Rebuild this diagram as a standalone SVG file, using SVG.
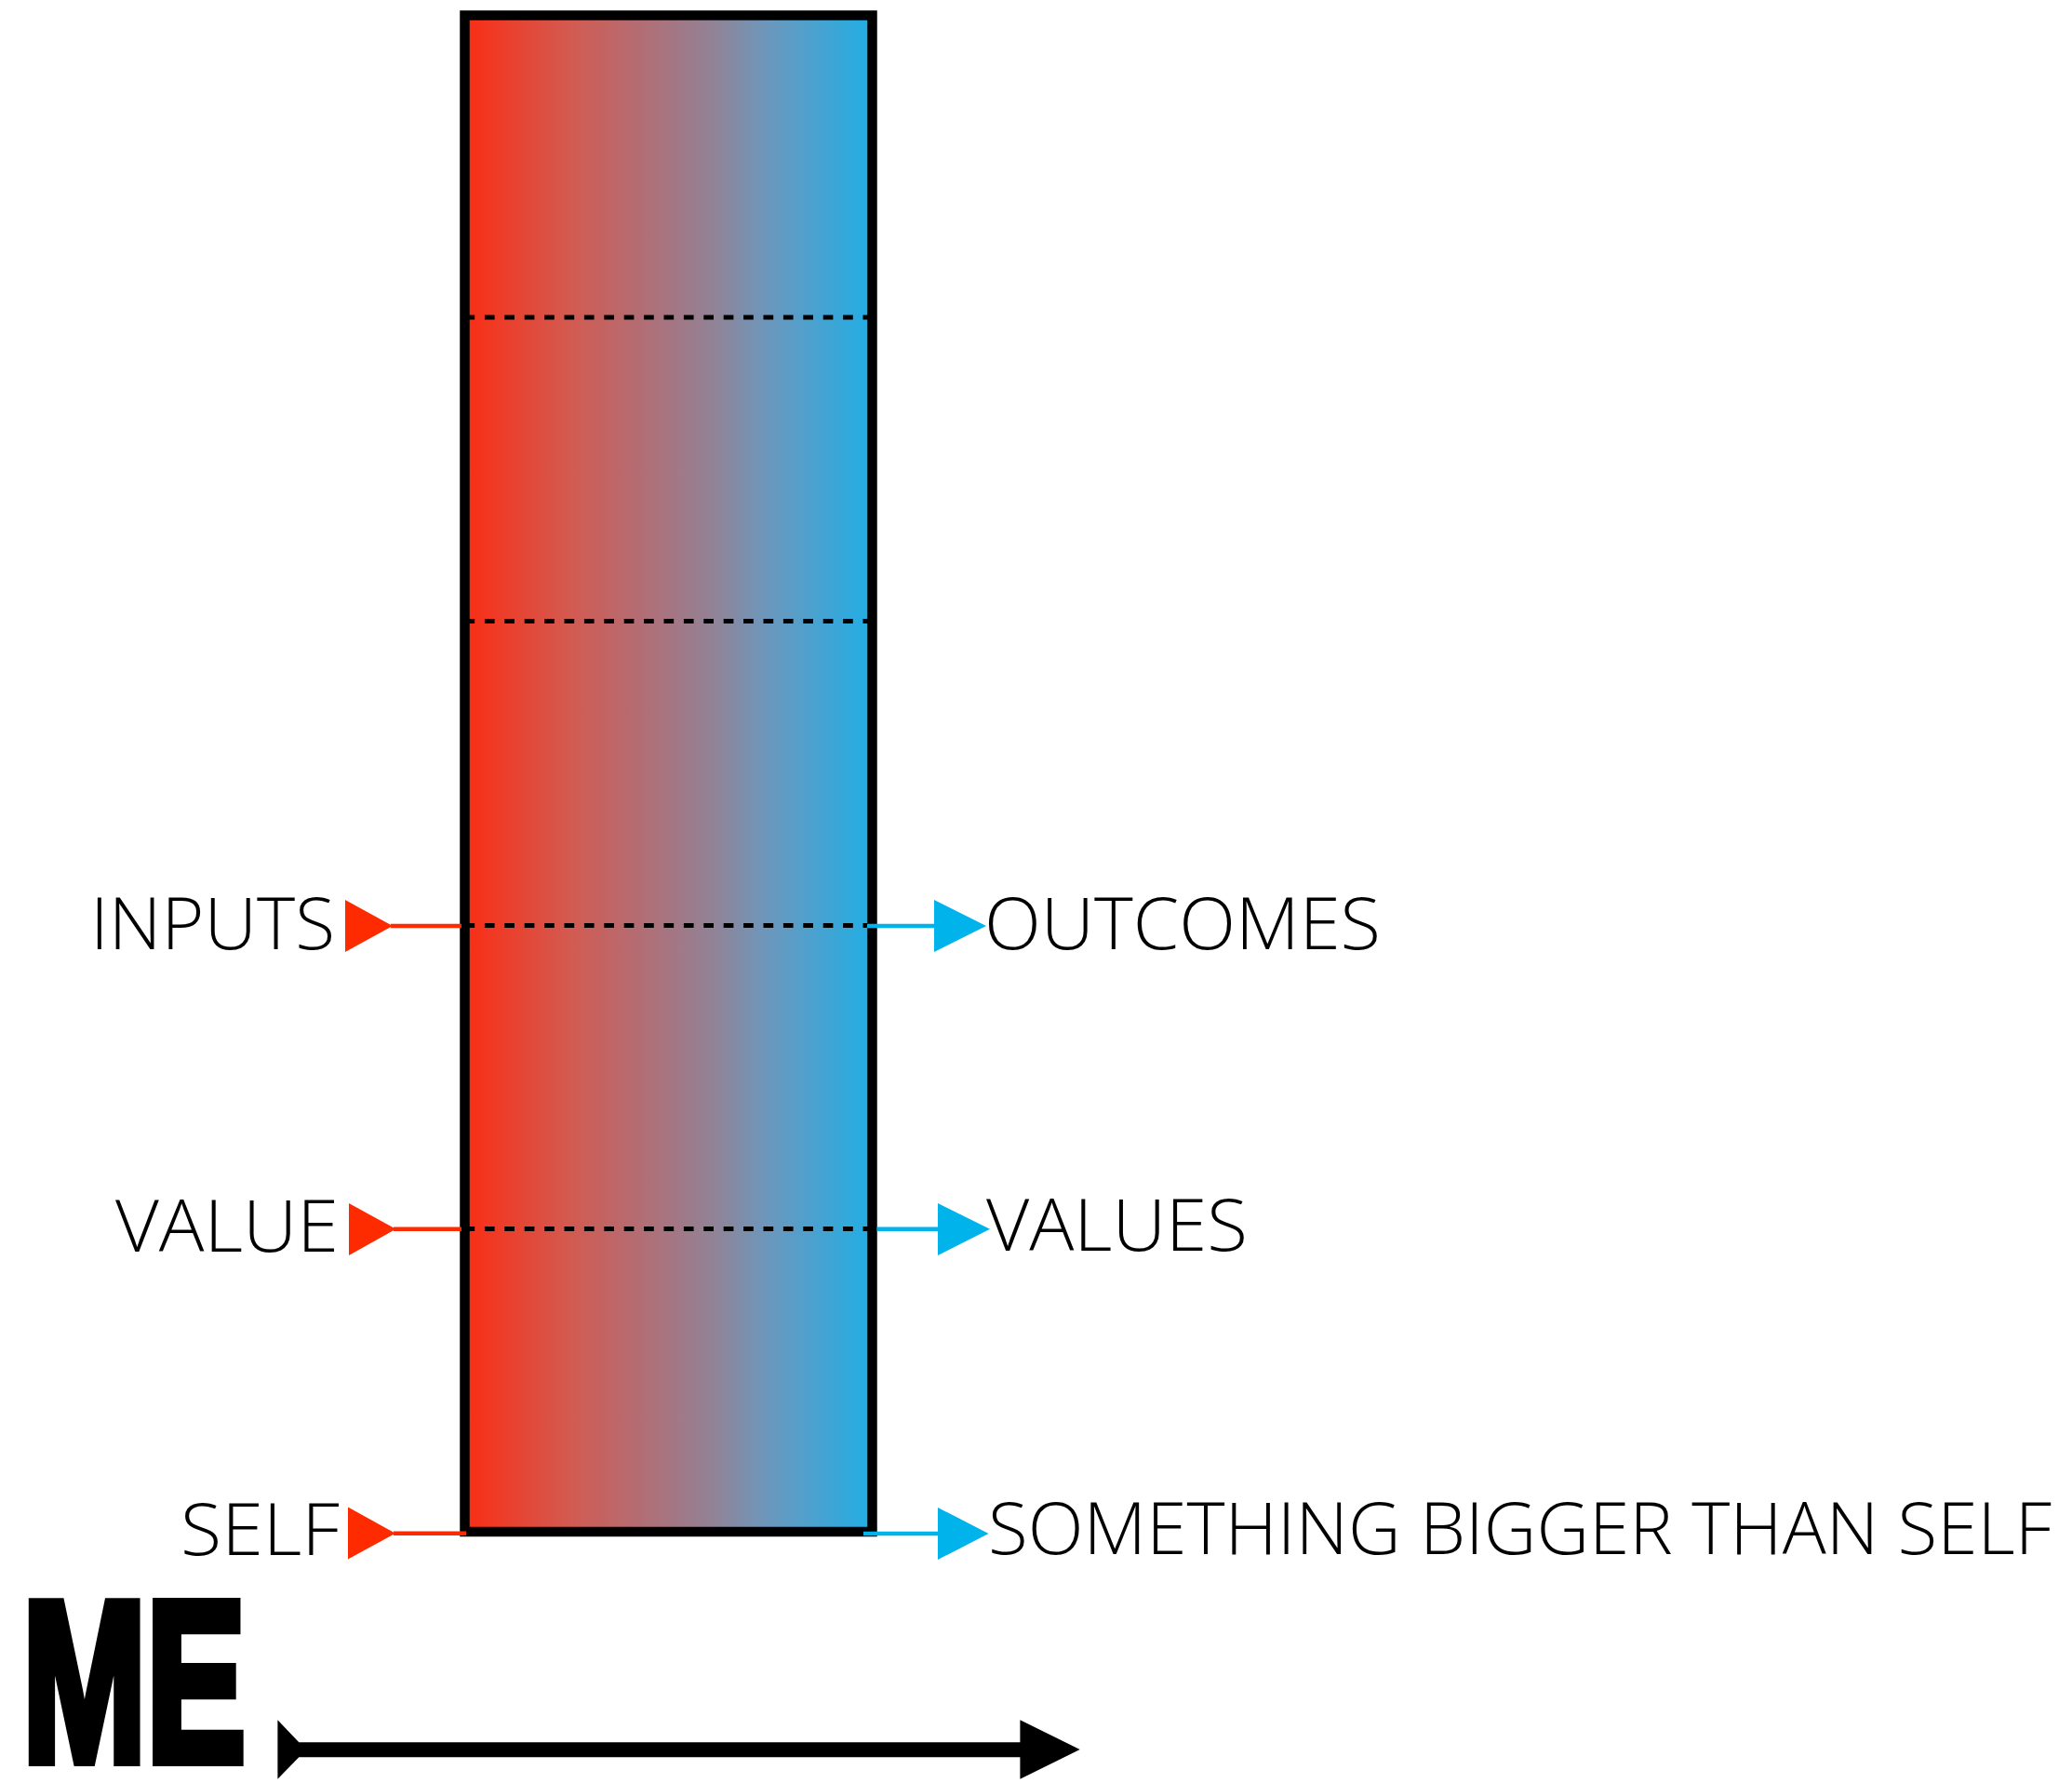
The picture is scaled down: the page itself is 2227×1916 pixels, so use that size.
<svg xmlns="http://www.w3.org/2000/svg" width="2227" height="1916" viewBox="0 0 2227 1916">
  <style>
    .label { font-family: "Open Sans", "Noto Sans", "Liberation Sans", sans-serif; font-weight: 300; font-size: 78px; fill: #000; }
    .divider { stroke: #000; stroke-width: 5; stroke-dasharray: 10.7 10.7; fill: none; }
    .in-line { stroke: #FF2B00; stroke-width: 4.5; fill: none; }
    .out-line { stroke: #00B3EA; stroke-width: 4.5; fill: none; }
    .in-head { fill: #FF2B00; }
    .out-head { fill: #00B3EA; }
    .big { font-family: "Liberation Sans Narrow", "Liberation Sans", Arial, sans-serif; font-weight: 700; font-size: 245px; fill: #000; stroke: #000; stroke-width: 12; stroke-linejoin: miter; }
  </style>
  <defs>
    <linearGradient id="spectrum" x1="0" y1="0" x2="1" y2="0">
      <stop offset="0" stop-color="#FA2D14"/>
      <stop offset="0.25" stop-color="#D4594F"/>
      <stop offset="0.5" stop-color="#A67582"/>
      <stop offset="0.62" stop-color="#8F8498"/>
      <stop offset="0.75" stop-color="#6A98BE"/>
      <stop offset="1" stop-color="#20AEE5"/>
    </linearGradient>
  </defs>

  <rect width="2227" height="1916" fill="#fff"/>

  <!-- central column with level dividers -->
  <g id="column">
    <rect x="499.5" y="16.5" width="438" height="1629.5" fill="url(#spectrum)" stroke="#000" stroke-width="10.5"/>
    <line class="divider" x1="499.5" y1="341" x2="937.5" y2="341"/>
    <line class="divider" x1="499.5" y1="667.5" x2="937.5" y2="667.5"/>
    <line class="divider" x1="499.5" y1="994.5" x2="937.5" y2="994.5"/>
    <line class="divider" x1="499.5" y1="1320.5" x2="937.5" y2="1320.5"/>
  </g>

  <!-- input / output arrows -->
  <g id="connectors">
    <line class="in-line" x1="420" y1="995" x2="496" y2="995"/>
    <polygon class="in-head" points="371,967 422,995 371,1023"/>
    <line class="in-line" x1="423" y1="1320.7" x2="496" y2="1320.7"/>
    <polygon class="in-head" points="375,1293 425.5,1320.7 375,1349"/>
    <line class="in-line" x1="423" y1="1647.7" x2="501" y2="1647.7"/>
    <polygon class="in-head" points="374,1619.5 425,1647.7 374,1675.5"/>

    <line class="out-line" x1="932" y1="995" x2="1006" y2="995"/>
    <polygon class="out-head" points="1004,967 1060,995 1004,1023"/>
    <line class="out-line" x1="942.5" y1="1320.7" x2="1010" y2="1320.7"/>
    <polygon class="out-head" points="1008,1293 1064,1320.7 1008,1349"/>
    <line class="out-line" x1="928" y1="1648" x2="1010" y2="1648"/>
    <polygon class="out-head" points="1008,1620 1062.5,1648 1008,1676"/>

    <!-- horizontal axis arrow -->
    <path d="M298.4,1848.3 L321.3,1872.3 L1096.4,1872.3 L1096.4,1848.3 L1160.7,1880 L1096.4,1911.7 L1096.4,1888.3 L321.3,1888.3 L298.4,1911.7 Z" fill="#000"/>
  </g>

  <g id="inputs"><text class="label" x="97" y="1020" textLength="263" lengthAdjust="spacingAndGlyphs">INPUTS</text></g>
  <g id="value"><text class="label" x="124" y="1345" textLength="240" lengthAdjust="spacingAndGlyphs">VALUE</text></g>
  <g id="self"><text class="label" x="194" y="1670.5" textLength="171" lengthAdjust="spacingAndGlyphs">SELF</text></g>

  <g id="outcomes"><text class="label" x="1058" y="1020" textLength="426" lengthAdjust="spacingAndGlyphs">OUTCOMES</text></g>
  <g id="values"><text class="label" x="1060" y="1344" textLength="281" lengthAdjust="spacingAndGlyphs">VALUES</text></g>
  <g id="bigger"><text class="label" x="1062" y="1670" textLength="1143" lengthAdjust="spacingAndGlyphs">SOMETHING BIGGER THAN SELF</text></g>

  <g id="me"><text class="big" x="24" y="1892" textLength="240" lengthAdjust="spacingAndGlyphs">ME</text></g>
</svg>
